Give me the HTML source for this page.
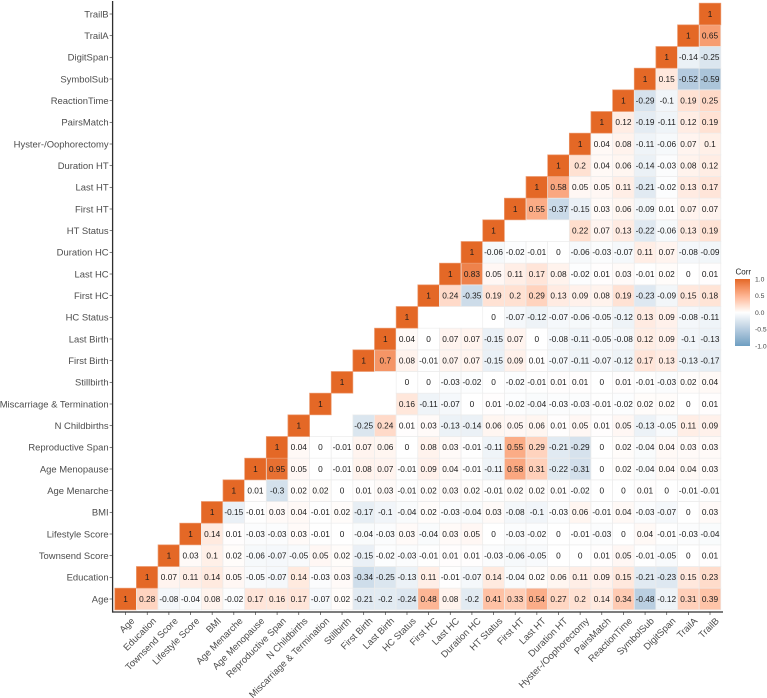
<!DOCTYPE html>
<html lang="en">
<head>
<meta charset="utf-8">
<title>Correlation heatmap</title>
<style>
html,body{margin:0;padding:0;background:#fff;}
svg{display:block;font-family:"Liberation Sans",Arial,sans-serif;}
#plot-root{filter:url(#soften);}
</style>
</head>
<body>
<svg id="chart" xmlns="http://www.w3.org/2000/svg" width="767" height="698" viewBox="0 0 767 698">
<defs>
<linearGradient id="legend-gradient" x1="0" y1="0" x2="0" y2="1"></linearGradient>
<filter id="soften" x="0" y="0" width="100%" height="100%" filterUnits="userSpaceOnUse" primitiveUnits="userSpaceOnUse"><feGaussianBlur stdDeviation="0.35"/></filter>
</defs>
<rect x="0" y="0" width="767" height="698" fill="#fff"/>
<g id="plot-root">
<g id="cells"></g>
<g id="axes"></g>
<g id="legend"></g>
</g>
</svg>
<script>
const categories = ["Age","Education","Townsend Score","Lifestyle Score","BMI","Age Menarche","Age Menopause","Reproductive Span","N Childbirths","Miscarriage & Termination","Stillbirth","First Birth","Last Birth","HC Status","First HC","Last HC","Duration HC","HT Status","First HT","Last HT","Duration HT","Hyster-/Oophorectomy","PairsMatch","ReactionTime","SymbolSub","DigitSpan","TrailA","TrailB"];

// Each row starts at its diagonal cell; null = blank cell.
const rowAge = [1,0.28,-0.08,-0.04,0.08,-0.02,0.17,0.16,0.17,-0.07,0.02,-0.21,-0.2,-0.24,0.48,0.08,-0.2,0.41,0.33,0.54,0.27,0.2,0.14,0.34,-0.48,-0.12,0.31,0.39];
const rowEducation = [1,0.07,0.11,0.14,0.05,-0.05,-0.07,0.14,-0.03,0.03,-0.34,-0.25,-0.13,0.11,-0.01,-0.07,0.14,-0.04,0.02,0.06,0.11,0.09,0.15,-0.21,-0.23,0.15,0.23];
const rowTownsend = [1,0.03,0.1,0.02,-0.06,-0.07,-0.05,0.05,0.02,-0.15,-0.02,-0.03,-0.01,0.01,0.01,-0.03,-0.06,-0.05,0,0,0.01,0.05,-0.01,-0.05,0,0.01];
const rowLifestyle = [1,0.14,0.01,-0.03,-0.03,0.03,-0.01,0,-0.04,-0.03,0.03,-0.04,0.03,0.05,0,-0.03,-0.02,0,-0.01,-0.03,0,0.04,-0.01,-0.03,-0.04];
const rowBMI = [1,-0.15,-0.01,0.03,0.04,-0.01,0.02,-0.17,-0.1,-0.04,0.02,-0.03,-0.04,0.03,-0.08,-0.1,-0.03,0.06,-0.01,0.04,-0.03,-0.07,0,0.03];
const rowMenarche = [1,0.01,-0.3,0.02,0.02,0,0.01,0.03,-0.01,0.02,0.03,0.02,-0.01,0.02,0.02,0.01,-0.02,0,0,0.01,0,-0.01,-0.01];
const rowMenopause = [1,0.95,0.05,0,-0.01,0.08,0.07,-0.01,0.09,0.04,-0.01,-0.11,0.58,0.31,-0.22,-0.31,0,0.02,-0.04,0.04,0.04,0.03];
const rowReproSpan = [1,0.04,0,-0.01,0.07,0.06,0,0.08,0.03,-0.01,-0.11,0.55,0.29,-0.21,-0.29,0,0.02,-0.04,0.04,0.03,0.03];
const rowChildbirths = [1,null,null,-0.25,0.24,0.01,0.03,-0.13,-0.14,0.06,0.05,0.06,0.01,0.05,0.01,0.05,-0.13,-0.05,0.11,0.09];
const rowMiscarriage = [1,null,null,null,0.16,-0.11,-0.07,0,0.01,-0.02,-0.04,-0.03,-0.03,-0.01,-0.02,0.02,0.02,0,0.01];
const rowStillbirth = [1,null,null,0,0,-0.03,-0.02,0,-0.02,-0.01,0.01,0.01,0,0.01,-0.01,-0.03,0.02,0.04];
const rowFirstBirth = [1,0.7,0.08,-0.01,0.07,0.07,-0.15,0.09,0.01,-0.07,-0.11,-0.07,-0.12,0.17,0.13,-0.13,-0.17];
const rowLastBirth = [1,0.04,0,0.07,0.07,-0.15,0.07,0,-0.08,-0.11,-0.05,-0.08,0.12,0.09,-0.1,-0.13];
const rowHCStatus = [1,null,null,null,0,-0.07,-0.12,-0.07,-0.06,-0.05,-0.12,0.13,0.09,-0.08,-0.11];
const rowFirstHC = [1,0.24,-0.35,0.19,0.2,0.29,0.13,0.09,0.08,0.19,-0.23,-0.09,0.15,0.18];
const rowLastHC = [1,0.83,0.05,0.11,0.17,0.08,-0.02,0.01,0.03,-0.01,0.02,0,0.01];
const rowDurationHC = [1,-0.06,-0.02,-0.01,0,-0.06,-0.03,-0.07,0.11,0.07,-0.08,-0.09];
const rowHTStatus = [1,null,null,null,0.22,0.07,0.13,-0.22,-0.06,0.13,0.19];
const rowFirstHT = [1,0.55,-0.37,-0.15,0.03,0.06,-0.09,0.01,0.07,0.07];
const rowLastHT = [1,0.58,0.05,0.05,0.11,-0.21,-0.02,0.13,0.17];
const rowDurationHT = [1,0.2,0.04,0.06,-0.14,-0.03,0.08,0.12];
const rowHyster = [1,0.04,0.08,-0.11,-0.06,0.07,0.1];
const rowPairsMatch = [1,0.12,-0.19,-0.11,0.12,0.19];
const rowReactionTime = [1,-0.29,-0.1,0.19,0.25];
const rowSymbolSub = [1,0.15,-0.52,-0.59];
const rowDigitSpan = [1,-0.14,-0.25];
const rowTrailA = [1,0.65];
const rowTrailB = [1];
const corrRows = [rowAge,rowEducation,rowTownsend,rowLifestyle,rowBMI,rowMenarche,rowMenopause,rowReproSpan,rowChildbirths,rowMiscarriage,rowStillbirth,rowFirstBirth,rowLastBirth,rowHCStatus,rowFirstHC,rowLastHC,rowDurationHC,rowHTStatus,rowFirstHT,rowLastHT,rowDurationHT,rowHyster,rowPairsMatch,rowReactionTime,rowSymbolSub,rowDigitSpan,rowTrailA,rowTrailB];

const legendTicks = [1,0.5,0,-0.5,-1];
const legendLabels = ["1.0","0.5","0.0","-0.5","-1.0"];

const NS = "http://www.w3.org/2000/svg";
const panel = {left:112.6,right:723,top:1,bottom:612};
const n = categories.length;
const expand = 0.6;
const bandX = (panel.right-panel.left)/(n-1+2*expand);
const bandY = (panel.bottom-panel.top)/(n-1+2*expand);
function xScale(i){return panel.left+(i+expand)*bandX;}
function yScale(i){return panel.bottom-(i+expand)*bandY;}

function srgbToLin(c){c/=255;return c<=0.04045?c/12.92:Math.pow((c+0.055)/1.055,2.4);}
function linToSrgb(c){const v=c<=0.0031308?12.92*c:1.055*Math.pow(c,1/2.4)-0.055;return Math.max(0,Math.min(255,Math.round(v*255)));}
function fLab(t){return t>0.008856?Math.cbrt(t):7.787*t+16/116;}
function fInv(t){const c=t*t*t;return c>0.008856?c:(t-16/116)/7.787;}
function toLab(rgb){
  const r=srgbToLin(rgb[0]),g=srgbToLin(rgb[1]),b=srgbToLin(rgb[2]);
  const X=(0.4124*r+0.3576*g+0.1805*b)/0.95047,Y=0.2126*r+0.7152*g+0.0722*b,Z=(0.0193*r+0.1192*g+0.9505*b)/1.08883;
  const fx=fLab(X),fy=fLab(Y),fz=fLab(Z);
  return [116*fy-16,500*(fx-fy),200*(fy-fz)];
}
function fromLab(l){
  const fy=(l[0]+16)/116,fx=fy+l[1]/500,fz=fy-l[2]/200;
  const X=fInv(fx)*0.95047,Y=fInv(fy),Z=fInv(fz)*1.08883;
  const r=3.2406*X-1.5372*Y-0.4986*Z,g=-0.9689*X+1.8758*Y+0.0415*Z,b=0.0557*X-0.2040*Y+1.0570*Z;
  return "rgb("+linToSrgb(r)+","+linToSrgb(g)+","+linToSrgb(b)+")";
}
const labHigh=toLab([228,103,38]),labMid=toLab([255,255,255]),labLow=toLab([109,158,193]);
function colorScale(v){
  const t=Math.min(1,Math.abs(v)),end=v>=0?labHigh:labLow;
  return fromLab([0,1,2].map(function(k){return labMid[k]+(end[k]-labMid[k])*t;}));
}
function el(tag,parent){const e=document.createElementNS(NS,tag);parent.appendChild(e);return e;}

const cellsG=document.getElementById("cells");
const axesG=document.getElementById("axes");
const legendG=document.getElementById("legend");

corrRows.forEach(function(row,r){
  row.forEach(function(v,k){
    if(v===null)return;
    const c=r+k;
    const rect=el("rect",cellsG);
    
    
    rect.setAttribute("x",xScale(c)-bandX/2);
    rect.setAttribute("y",yScale(r)-bandY/2);
    rect.setAttribute("width",bandX);
    rect.setAttribute("height",bandY);
    rect.setAttribute("fill",colorScale(v));
    rect.setAttribute("stroke",v===1?"#eb9a6f":"#ececec");
    rect.setAttribute("stroke-width","0.7");
  });
});
corrRows.forEach(function(row,r){
  row.forEach(function(v,k){
    if(v===null)return;
    const c=r+k;
    const t=el("text",cellsG);
    
    
    t.setAttribute("x",xScale(c));
    t.setAttribute("y",yScale(r)+2.9);
    t.setAttribute("text-anchor","middle");
    t.setAttribute("font-size","8.3");
    t.setAttribute("fill","#1a1a1a");
    t.textContent=String(v);
  });
});

categories.forEach(function(name,i){
  const ly=el("text",axesG);
  
  
  ly.setAttribute("x",panel.left-4);
  ly.setAttribute("y",yScale(i)+3.3);
  ly.setAttribute("text-anchor","end");
  ly.setAttribute("font-size","9.45");
  ly.setAttribute("fill","#4d4d4d");
  ly.textContent=name;

  const ty=el("line",axesG);
  
  
  ty.setAttribute("x1",panel.left-3);
  ty.setAttribute("x2",panel.left);
  ty.setAttribute("y1",yScale(i));
  ty.setAttribute("y2",yScale(i));
  ty.setAttribute("stroke","#444");
  ty.setAttribute("stroke-width","0.7");

  const tx=el("line",axesG);
  
  
  tx.setAttribute("x1",xScale(i));
  tx.setAttribute("x2",xScale(i));
  tx.setAttribute("y1",panel.bottom);
  tx.setAttribute("y2",panel.bottom+3);
  tx.setAttribute("stroke","#444");
  tx.setAttribute("stroke-width","0.7");

  const lx=el("text",axesG);
  
  
  const ax=xScale(i)+5, ay=panel.bottom+5;
  lx.setAttribute("transform","translate("+ax+","+ay+") rotate(-45)");
  lx.setAttribute("text-anchor","end");
  lx.setAttribute("y","6.4");
  lx.setAttribute("font-size","9.45");
  lx.setAttribute("fill","#4d4d4d");
  lx.textContent=name;
});

const axisY=el("line",axesG);


axisY.setAttribute("x1",panel.left);
axisY.setAttribute("x2",panel.left);
axisY.setAttribute("y1",panel.top);
axisY.setAttribute("y2",panel.bottom+0.6);
axisY.setAttribute("stroke","#2e2e2e");
axisY.setAttribute("stroke-width","1.3");

const axisX=el("line",axesG);


axisX.setAttribute("x1",panel.left);
axisX.setAttribute("x2",panel.right);
axisX.setAttribute("y1",panel.bottom);
axisX.setAttribute("y2",panel.bottom);
axisX.setAttribute("stroke","#2e2e2e");
axisX.setAttribute("stroke-width","1.3");

const legendBox={x:735,width:15,top:279,bottom:346};
function legendY(v){return legendBox.top+(1-v)/2*(legendBox.bottom-legendBox.top);}
const grad=document.getElementById("legend-gradient");
for(let s=0;s<=20;s++){
  const stop=el("stop",grad);
  stop.setAttribute("offset",(s/20));
  stop.setAttribute("stop-color",colorScale(1-2*s/20));
}
const title=el("text",legendG);


title.setAttribute("x",legendBox.x+0.5);
title.setAttribute("y",274.5);
title.setAttribute("font-size","8");
title.setAttribute("fill","#222");
title.textContent="Corr";

const bar=el("rect",legendG);


bar.setAttribute("x",legendBox.x);
bar.setAttribute("y",legendBox.top);
bar.setAttribute("width",legendBox.width);
bar.setAttribute("height",legendBox.bottom-legendBox.top);
bar.setAttribute("fill","url(#legend-gradient)");

legendTicks.forEach(function(v,i){
  const lab=el("text",legendG);
  
  
  lab.setAttribute("x",755);
  lab.setAttribute("y",legendY(v)+2.3);
  lab.setAttribute("font-size","6.8");
  lab.setAttribute("fill","#444");
  lab.textContent=legendLabels[i];
});
</script>
</body>
</html>
